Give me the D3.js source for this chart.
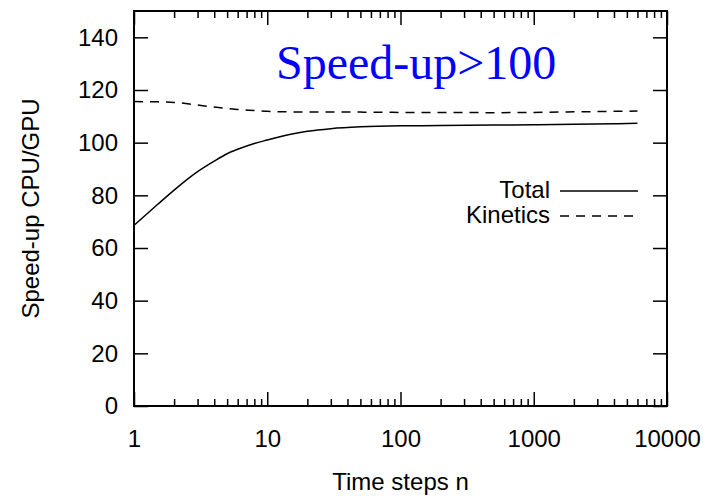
<!DOCTYPE html>
<html>
<head>
<meta charset="utf-8">
<script src="https://cdn.jsdelivr.net/npm/d3@7"></script>
<style>
    body { margin: 0; background: #fff; }
    text { font-family: "Liberation Sans", Arial, Helvetica, sans-serif; }
</style>
</head>
<body>
<svg id="chart" width="721" height="501"></svg>
<script>
// time steps n and measured speed-ups
const steps = [1, 1.5, 2, 3, 4, 5, 6, 8, 10, 15, 20, 30, 50, 100, 200, 500, 1000, 2000, 4000, 6000];
const total = [68.6, 76.5, 82, 89, 93, 95.8, 97.5, 99.7, 101, 103.2, 104.3, 105.3, 106, 106.4, 106.5, 106.7, 106.8, 107, 107.2, 107.4];
const kinetics = [115.6, 115.5, 115.3, 114.3, 113.5, 113, 112.6, 112.2, 111.9, 111.7, 111.6, 111.6, 111.6, 111.5, 111.5, 111.4, 111.5, 111.7, 111.9, 112];
const yTicks = [0, 20, 40, 60, 80, 100, 120, 140];
const xTicks = [1, 10, 100, 1000, 10000];
const seriesNames = ["Total", "Kinetics"];

const margin = {top: 11, right: 54, bottom: 95, left: 134};
const width = 721 - margin.left - margin.right;
const height = 501 - margin.top - margin.bottom;

const svg = d3.select("#chart");
const g = svg.append("g").attr("transform", `translate(${margin.left},${margin.top})`);

const x = d3.scaleLog().domain([1, 10000]).range([0, width]);
const y = d3.scaleLinear().domain([0, 150]).range([height, 0]);

// minor ticks 2..9 in each decade
const minor = [];
for (let d = 1; d < 10000; d *= 10) {
    for (let k = 2; k <= 9; k++) minor.push(d * k);
}

function styleAxis(sel) {
    sel.select(".domain").remove();
    sel.selectAll("line").attr("stroke", "#000").attr("stroke-width", 1.5);
    sel.selectAll("text").attr("font-size", 24).attr("fill", "#000");
}

// bottom
g.append("g").attr("transform", `translate(0,${height})`)
    .call(d3.axisBottom(x).tickValues(xTicks).tickFormat(d3.format("d")).tickSize(-14).tickPadding(24))
    .call(styleAxis);
g.append("g").attr("transform", `translate(0,${height})`)
    .call(d3.axisBottom(x).tickValues(minor).tickFormat("").tickSize(-7))
    .call(styleAxis);
// top mirror
g.append("g")
    .call(d3.axisTop(x).tickValues(xTicks).tickFormat("").tickSize(-14))
    .call(styleAxis);
g.append("g")
    .call(d3.axisTop(x).tickValues(minor).tickFormat("").tickSize(-7))
    .call(styleAxis);
// left
g.append("g")
    .call(d3.axisLeft(y).tickValues(yTicks).tickSize(-14).tickPadding(16))
    .call(styleAxis);
// right mirror
g.append("g").attr("transform", `translate(${width},0)`)
    .call(d3.axisRight(y).tickValues(yTicks).tickFormat("").tickSize(-14))
    .call(styleAxis);

// frame
g.append("rect")
    .attr("width", width).attr("height", height)
    .attr("fill", "none").attr("stroke", "#000").attr("stroke-width", 2);

const line = d3.line()
    .x(d => x(d[0]))
    .y(d => y(d[1]))
    .curve(d3.curveMonotoneX);

g.append("path")
    .datum(steps.map((n, i) => [n, total[i]]))
    .attr("d", line)
    .attr("fill", "none").attr("stroke", "#000").attr("stroke-width", 1.5);

g.append("path")
    .datum(steps.map((n, i) => [n, kinetics[i]]))
    .attr("d", line)
    .attr("fill", "none").attr("stroke", "#000").attr("stroke-width", 1.5)
    .attr("stroke-dasharray", "9,7");

// legend
const legend = g.append("g").attr("transform", `translate(${416},${180})`);
seriesNames.forEach((name, i) => {
    const row = legend.append("g").attr("transform", `translate(0,${i * 25})`);
    row.append("text")
        .attr("x", 0).attr("y", 7)
        .attr("text-anchor", "end")
        .attr("font-size", 24)
        .text(name);
    row.append("line")
        .attr("x1", 10).attr("x2", 88)
        .attr("stroke", "#000").attr("stroke-width", 1.5)
        .attr("stroke-dasharray", i === 1 ? "9,7" : null);
});

// annotation
g.append("text")
    .attr("x", 276 - margin.left).attr("y", 79 - margin.top)
    .style("font-family", "'Liberation Serif', 'Times New Roman', serif")
    .attr("font-size", 48)
    .attr("fill", "#0000ff")
    .text("Speed-up>100");

// axis titles
svg.append("text")
    .attr("x", margin.left + width / 2).attr("y", 490)
    .attr("text-anchor", "middle")
    .attr("font-size", 24)
    .text("Time steps n");

svg.append("text")
    .attr("transform", `translate(39,${margin.top + height / 2}) rotate(-90)`)
    .attr("text-anchor", "middle")
    .attr("font-size", 24)
    .text("Speed-up CPU/GPU");
</script>
</body>
</html>
